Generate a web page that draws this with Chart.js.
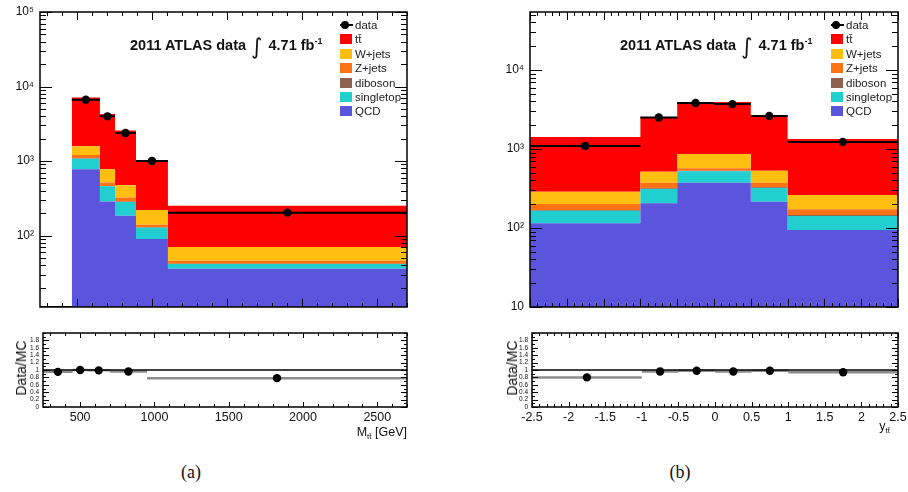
<!DOCTYPE html>
<html>
<head>
<meta charset="utf-8">
<script src="https://cdn.jsdelivr.net/npm/chart.js@4.4.1/dist/chart.umd.min.js"></script>
<style>
  body { margin: 0; background: #fff; }
  #page { position: relative; width: 908px; height: 492px; overflow: hidden; font-family: "Liberation Sans", Arial, sans-serif; color: #111; }
  canvas { position: absolute; }
  canvas.ax { z-index: 1; }
  .txt { position: absolute; white-space: nowrap; z-index: 2; }
  .atlas { font-size: 14.5px; font-weight: bold; line-height: 1; }
  .atlas .int { font-weight: normal; font-family: "DejaVu Sans", sans-serif; font-size: 22px; position: relative; top: 4px; margin: 0 6px 0 5px; }
  .atlas sup { font-size: 9px; vertical-align: 6px; }
  .legend { position: absolute; z-index: 2; font-size: 11.5px; color: #222; }
  .legend div { height: 14.4px; line-height: 14.4px; position: relative; padding-left: 15px; }
  .legend .sw { position: absolute; left: 0; top: 2px; width: 12px; height: 10px; }
  .legend .dm { position: absolute; left: 0; top: 6px; width: 13px; height: 2px; background: #000; }
  .legend .dm::before { content: ''; position: absolute; left: 1px; top: -3px; width: 8px; height: 8px; border-radius: 50%; background: #000; }
  .xt { font-size: 12.5px; }
  .xt sub { font-size: 8px; vertical-align: -3px; }
  .ylab { font-size: 14px; transform: translate(-50%, -50%) rotate(-90deg); }
  .cap { font-family: "Liberation Serif", serif; font-size: 18px; transform: translate(-50%, -50%); }
</style>
</head>
<body>
<div id="page">
  <canvas id="mainA" width="420" height="312" style="left:0;top:0"></canvas>
  <canvas id="ratioA" width="420" height="110" style="left:0;top:320px"></canvas>
  <canvas id="mainB" width="458" height="312" style="left:450px;top:0"></canvas>
  <canvas id="ratioB" width="458" height="110" style="left:450px;top:320px"></canvas>

  <div class="txt atlas" style="left:130px;top:32px">2011 ATLAS data<span class="int">∫</span>4.71 fb<sup>-1</sup></div>
  <div class="txt atlas" style="left:620px;top:32px">2011 ATLAS data<span class="int">∫</span>4.71 fb<sup>-1</sup></div>
  <div class="legend" id="legA" style="left:340px;top:18px"></div>
  <div class="legend" id="legB" style="left:831px;top:18px"></div>

  <div class="txt ylab" style="left:21px;top:368px">Data/MC</div>
  <div class="txt ylab" style="left:512px;top:368px">Data/MC</div>
  <div class="txt xt" style="right:501px;top:425px">M<sub>tt&#772;</sub> [GeV]</div>
  <div class="txt xt" style="right:18px;top:419px">y<sub>tt&#772;</sub></div>

  <div class="txt cap" style="left:191px;top:472px">(a)</div>
  <div class="txt cap" style="left:680px;top:472px">(b)</div>
</div>
<script>
// Panel (a): M_tt
const mttEdges = [250, 462, 650, 751, 891, 1104, 2700];
const mttData = [0, 6650, 3980, 2380, 1000, 203];
const mttTtbar = [0, 5545, 3506, 2086, 810, 181];
const mttWjets = [0, 383, 260, 150, 80, 24];
const mttZjets = [0, 116, 50, 38, 11, 4];
const mttDiboson = [0, 10, 5, 3, 2, 0.5];
const mttSingleTop = [0, 302, 173, 98, 37, 5.5];
const mttQCD = [0, 774, 286, 185, 90, 36];
const mttRatioEdges = [250, 450, 550, 700, 950, 2700];
const mttRatio = [0.95, 1.0, 0.99, 0.96, 0.78];

// Panel (b): y_tt
const yttEdges = [-2.5, -1, -0.5, 0, 0.5, 1, 2.5];
const yttData = [1090, 2500, 3820, 3700, 2620, 1230];
const yttTtbar = [1132, 2025, 3070, 3070, 2159, 1078];
const yttWjets = [86, 142, 295, 295, 157, 89];
const yttZjets = [32, 56, 39, 39, 47, 27];
const yttDiboson = [4, 6, 9, 9, 6, 4];
const yttSingleTop = [50, 106, 148, 148, 106, 48];
const yttQCD = [115, 206, 374, 374, 215, 94];
const yttRatio = [0.80, 0.96, 0.98, 0.96, 0.98, 0.94];

// Stack order bottom -> top
const compNames = ['QCD', 'singletop', 'diboson', 'Z+jets', 'W+jets', 'tt\u0304'];
const compColors = ['#5a55dc', '#22cfd0', '#8d6150', '#ff7315', '#ffbf10', '#ff0000'];

// Tick labels
const mttTicks = [500, 1000, 1500, 2000, 2500];
const yttTicks = [-2.5, -2, -1.5, -1, -0.5, 0, 0.5, 1, 1.5, 2, 2.5];
const mainYTicksA = [1e2, 1e3, 1e4, 1e5];
const mainYTicksB = [1e1, 1e2, 1e3, 1e4];
const ratioYTicks = [0, 0.2, 0.4, 0.6, 0.8, 1, 1.2, 1.4, 1.6, 1.8];

Chart.defaults.font.family = '"Liberation Sans", Arial, sans-serif';
Chart.defaults.color = '#111';

const SUP = { '0': '⁰', '1': '¹', '2': '²', '3': '³', '4': '⁴', '5': '⁵', '6': '⁶' };
function powLabel(v) {
    const e = Math.round(Math.log10(v));
    if (e === 1) return '10';
    return '10' + String(e).split('').map(c => SUP[c]).join('');
}

// ROOT style frame with inward ticks, drawn on a canvas laid over the chart
function drawRootAxes(chart, o) {
    const src = chart.canvas;
    const cv = document.createElement('canvas');
    cv.className = 'ax';
    cv.width = src.width;
    cv.height = src.height;
    cv.style.left = src.style.left;
    cv.style.top = src.style.top;
    src.parentNode.appendChild(cv);
    const ctx = cv.getContext('2d');
    const a = chart.chartArea;
    const x = chart.scales.x, y = chart.scales.y;
    const L = Math.round(a.left), R = Math.round(a.right), T = Math.round(a.top), B = Math.round(a.bottom);

    // pixel from the chart scale, falling back to the scale range if needed
    const px = v => {
        let p = x.getPixelForValue(v);
        if (!isFinite(p)) p = a.left + (v - x.min) / (x.max - x.min) * (a.right - a.left);
        return Math.round(p);
    };
    const py = v => {
        let p = y.getPixelForValue(v);
        if (!isFinite(p)) {
            const f = o.yLog ? (Math.log10(v) - Math.log10(y.min)) / (Math.log10(y.max) - Math.log10(y.min)) : (v - y.min) / (y.max - y.min);
            p = a.bottom - f * (a.bottom - a.top);
        }
        return Math.round(p);
    };

    ctx.fillStyle = '#000';
    const tx = (v, len) => {
        const p = px(v);
        ctx.fillRect(p, B - len, 1, len);
        ctx.fillRect(p, T, 1, len);
    };
    const ty = (v, len) => {
        const p = py(v);
        ctx.fillRect(L, p, len, 1);
        ctx.fillRect(R - len, p, len, 1);
    };
    for (let v = Math.ceil(x.min / o.xMinorStep - 1e-6) * o.xMinorStep; v <= x.max + 1e-9; v += o.xMinorStep) tx(v, o.len[1]);
    o.xMajor.forEach(v => tx(v, o.len[0]));
    if (o.yLog) {
        for (let e = Math.floor(Math.log10(y.min)); e <= Math.ceil(Math.log10(y.max)); e++) {
            for (let k = 1; k <= 9; k++) {
                const v = k * Math.pow(10, e);
                if (v < y.min || v > y.max) continue;
                ty(v, k === 1 ? o.len[2] : o.len[3]);
            }
        }
    } else {
        for (let v = y.min; v <= y.max + 1e-9; v += o.yMinorStep) ty(v, o.len[3]);
        o.yMajor.forEach(v => ty(v, o.len[2]));
    }
    ctx.strokeStyle = '#000';
    ctx.lineWidth = 1.5;
    ctx.strokeRect(a.left, a.top, a.right - a.left, a.bottom - a.top);
}

function stepLine(edges, vals) {
    const pts = vals.map((v, i) => ({ x: edges[i], y: v > 0 ? v : null }));
    pts.push({ x: edges[edges.length - 1], y: vals[vals.length - 1] });
    return pts;
}

function errBars(edges, vals, floor) {
    const pts = [];
    vals.forEach((v, i) => {
        const y = v > 0 ? v : floor;
        pts.push({ x: edges[i], y: y }, { x: edges[i + 1], y: y }, { x: edges[i + 1], y: null });
    });
    return pts;
}

function centers(edges, vals) {
    return vals.map((v, i) => ({ x: (edges[i] + edges[i + 1]) / 2, y: v })).filter(p => p.y > 0);
}

function stackSets(edges, comps) {
    let run = comps[0].map(() => 0);
    return comps.map((c, k) => {
        run = run.map((r, i) => r + c[i]);
        return {
            label: compNames[k],
            data: stepLine(edges, run),
            stepped: 'before',
            fill: k === 0 ? 'start' : '-1',
            backgroundColor: compColors[k],
            borderColor: 'transparent',
            borderWidth: 0,
            pointRadius: 0
        };
    });
}

const noPad = s => { s.paddingTop = 0; s.paddingBottom = 0; };

function mainChart(id, edges, comps, dataVals, yMin, yMax, yTicks, xTicks, xMinorStep, yAxisW, padR) {
    const chart = new Chart(document.getElementById(id), {
        type: 'line',
        data: {
            datasets: [
                { label: 'data', data: centers(edges, dataVals), showLine: false, pointRadius: 4.2, pointBackgroundColor: '#000', pointBorderWidth: 0 },
                { label: 'data err', data: errBars(edges, dataVals, yMin), borderColor: '#000', borderWidth: 2, pointRadius: 0, fill: false, spanGaps: false },
                ...stackSets(edges, comps)
            ]
        },
        options: {
            responsive: false,
            animation: false,
            events: [],
            layout: { padding: { left: 0, top: 12, right: padR, bottom: 5 } },
            plugins: { legend: { display: false }, tooltip: { enabled: false } },
            scales: {
                x: { type: 'linear', min: edges[0], max: edges[edges.length - 1], display: false },
                y: {
                    type: 'logarithmic', min: yMin, max: yMax,
                    afterBuildTicks: s => { s.ticks = yTicks.map(v => ({ value: v })); },
                    afterFit: s => { s.width = yAxisW; noPad(s); },
                    grid: { display: false, drawTicks: false },
                    border: { display: false },
                    ticks: { autoSkip: false, padding: 6, font: { size: 12 }, callback: v => powLabel(v) }
                }
            }
        }
    });
    drawRootAxes(chart, { xMajor: xTicks, xMinorStep: xMinorStep, yLog: true, len: [8, 4, 12, 6] });
    return chart;
}

function ratioChart(id, edges, ratio, xTicks, xMinorStep, yAxisW, padR) {
    const xmin = edges[0], xmax = edges[edges.length - 1];
    const chart = new Chart(document.getElementById(id), {
        type: 'line',
        data: {
            datasets: [
                { label: 'ratio', data: centers(edges, ratio), showLine: false, pointRadius: 4.2, pointBackgroundColor: '#000', pointBorderWidth: 0 },
                { label: 'unity', data: [{ x: xmin, y: 1 }, { x: xmax, y: 1 }], borderColor: '#000', borderWidth: 1.5, pointRadius: 0 },
                { label: 'ratio err', data: errBars(edges, ratio, 0), borderColor: '#8c8c8c', borderWidth: 2.5, pointRadius: 0, spanGaps: false }
            ]
        },
        options: {
            responsive: false,
            animation: false,
            events: [],
            layout: { padding: { left: 0, top: 13, right: padR, bottom: 0 } },
            plugins: { legend: { display: false }, tooltip: { enabled: false } },
            scales: {
                x: {
                    type: 'linear', min: xmin, max: xmax,
                    afterBuildTicks: s => { s.ticks = xTicks.map(v => ({ value: v })); },
                    afterFit: s => { s.height = 23; s.paddingLeft = 0; s.paddingRight = 0; },
                    grid: { display: false, drawTicks: false },
                    border: { display: false },
                    ticks: { autoSkip: false, maxRotation: 0, minRotation: 0, padding: 3, font: { size: 12.5 }, callback: v => String(v) }
                },
                y: {
                    type: 'linear', min: 0, max: 2,
                    afterBuildTicks: s => { s.ticks = ratioYTicks.map(v => ({ value: v })); },
                    afterFit: s => { s.width = yAxisW; noPad(s); },
                    grid: { display: false, drawTicks: false },
                    border: { display: false },
                    ticks: { autoSkip: false, padding: 4, font: { size: 6.5 }, callback: v => String(Math.round(v * 10) / 10) }
                }
            }
        }
    });
    drawRootAxes(chart, { xMajor: xTicks, xMinorStep: xMinorStep, yLog: false, yMajor: ratioYTicks, yMinorStep: 0.1, len: [5, 3, 6, 3] });
    return chart;
}

function buildLegend(el) {
    let html = '<div><span class="dm"></span>data</div>';
    for (let k = compNames.length - 1; k >= 0; k--) {
        html += `<div><span class="sw" style="background:${compColors[k]}"></span>${compNames[k]}</div>`;
    }
    el.innerHTML = html;
}

mainChart('mainA', mttEdges, [mttQCD, mttSingleTop, mttDiboson, mttZjets, mttWjets, mttTtbar], mttData, 11, 1e5, mainYTicksA, mttTicks, 100, 40, 13);
ratioChart('ratioA', mttRatioEdges, mttRatio, mttTicks, 100, 43, 13);
mainChart('mainB', yttEdges, [yttQCD, yttSingleTop, yttDiboson, yttZjets, yttWjets, yttTtbar], yttData, 10, 54200, mainYTicksB, yttTicks, 0.1, 80, 10);
ratioChart('ratioB', yttEdges, yttRatio, yttTicks, 0.1, 82, 10);
buildLegend(document.getElementById('legA'));
buildLegend(document.getElementById('legB'));
</script>
</body>
</html>
